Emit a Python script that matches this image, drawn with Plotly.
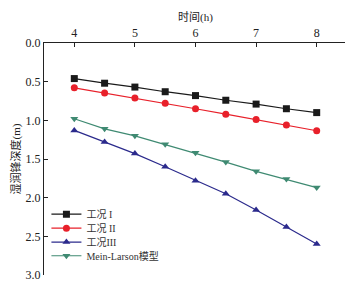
import plotly.graph_objects as go

hours = [4, 4.5, 5, 5.5, 6, 6.5, 7, 7.5, 8]
case1 = [0.46, 0.52, 0.57, 0.63, 0.68, 0.74, 0.79, 0.85, 0.90]
case2 = [0.58, 0.645, 0.71, 0.78, 0.85, 0.92, 0.99, 1.06, 1.135]
case3 = [1.13, 1.28, 1.43, 1.60, 1.78, 1.95, 2.16, 2.38, 2.60]
mein_larson = [0.98, 1.11, 1.20, 1.31, 1.42, 1.54, 1.66, 1.76, 1.87]

names = ["工况 I", "工况 II", "工况III", "Mein-Larson模型"]
colors = ["#1a1a1a", "#e8202a", "#2b2a8c", "#3f8a72"]
symbols = ["square", "circle", "triangle-up", "triangle-down"]
series = [case1, case2, case3, mein_larson]
legend_ids = ["legend", "legend2", "legend3", "legend4"]
legend_y = [0.262, 0.202, 0.142, 0.083]

font_family = "Liberation Serif, Noto Sans CJK SC, serif"

fig = go.Figure()
for name, col, sym, ys, lid in zip(names, colors, symbols, series, legend_ids):
    fig.add_trace(go.Scatter(
        x=hours, y=ys, name=name, mode="lines+markers",
        line=dict(color=col, width=1.2),
        marker=dict(symbol=sym, size=7, color=col),
        legend=lid,
    ))

legend_common = dict(xanchor="left", yanchor="middle",
                     font=dict(size=10, family=font_family, color="#333"),
                     bgcolor="rgba(0,0,0,0)", borderwidth=0)
legends = {}
for lid, ly in zip(legend_ids, legend_y):
    legends[lid] = dict(x=0.008, y=ly, **legend_common)

# page body has an 8px default margin; size the figure to fit the 353x287 window
fig.update_layout(
    width=345, height=279,
    margin=dict(l=36, r=6, t=35, b=12),
    paper_bgcolor="white", plot_bgcolor="white",
    font=dict(family=font_family, size=12, color="#222"),
    showlegend=True,
    xaxis=dict(side="top", range=[3.5, 8.5], tickvals=[4, 5, 6, 7, 8],
               automargin=False,
               showline=True, linecolor="#222", linewidth=1,
               ticks="inside", ticklen=4, tickcolor="#222",
               showgrid=False, zeroline=False,
               title=dict(text="时间(h)", font=dict(size=11), standoff=2)),
    yaxis=dict(range=[3.0, 0.0], tickvals=[0, 0.5, 1.0, 1.5, 2.0, 2.5, 3.0],
               tickformat=".1f", automargin=False,
               showline=True, linecolor="#222", linewidth=1,
               ticks="inside", ticklen=4, tickcolor="#222",
               showgrid=False, zeroline=False,
               title=dict(text="湿润锋深度(m)", font=dict(size=11), standoff=2)),
    **legends,
)

fig.write_html("out.html")
